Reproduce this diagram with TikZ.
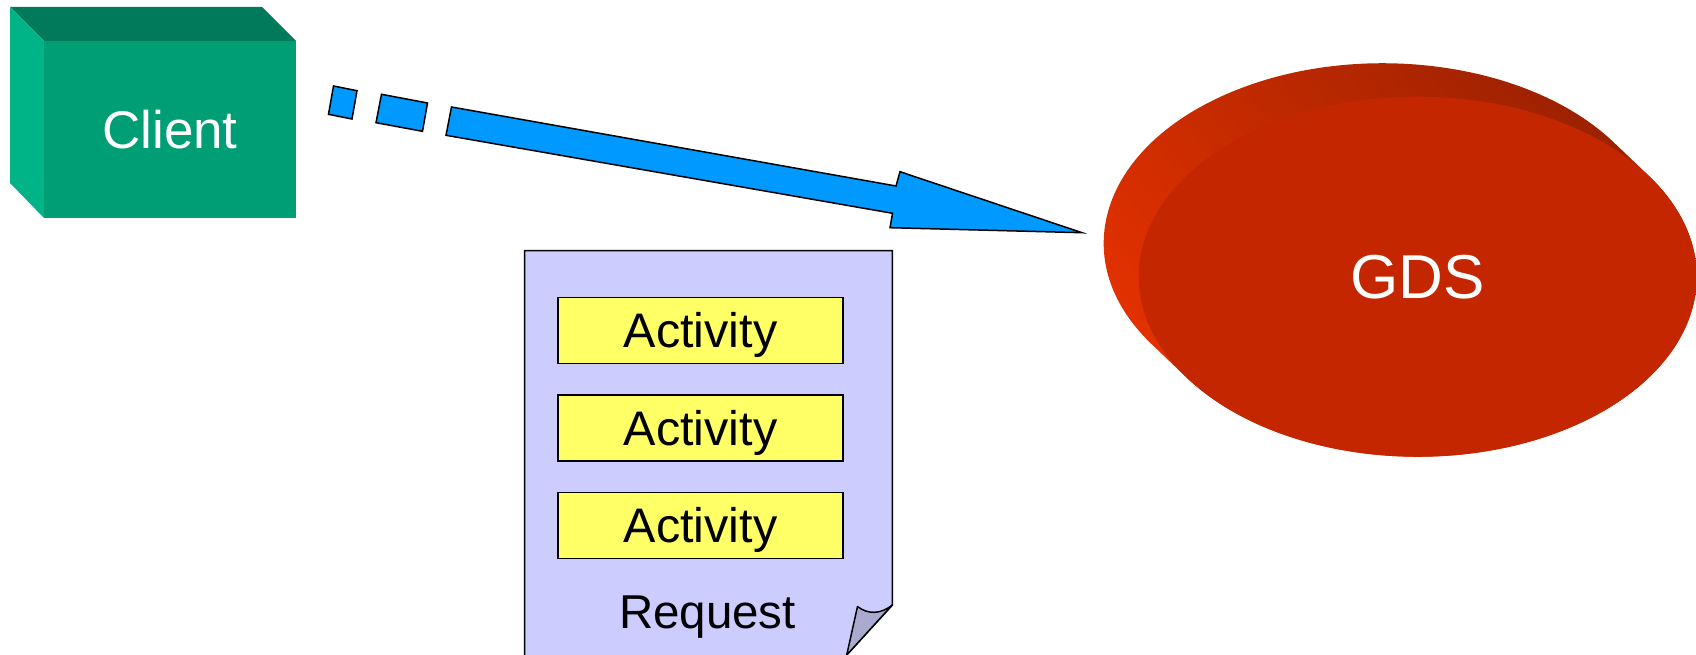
\documentclass[tikz,border=0pt]{standalone}
\usepackage{fontspec}
\setmainfont{Liberation Sans}
\usetikzlibrary{shapes.geometric,positioning}

\definecolor{clientfront}{RGB}{0,158,117}
\definecolor{clienttop}{RGB}{0,122,90}
\definecolor{clientside}{RGB}{0,180,135}
\definecolor{arrowblue}{RGB}{0,153,255}
\definecolor{pagelilac}{RGB}{204,204,255}
\definecolor{foldlilac}{RGB}{170,170,208}
\definecolor{actyellow}{RGB}{255,255,102}
\definecolor{gdsfront}{RGB}{196,38,0}
\definecolor{gdsdark}{RGB}{150,32,0}
\definecolor{gdsbright}{RGB}{232,50,0}

\begin{document}
\begin{tikzpicture}[x=1pt, y=-1pt, node distance=30pt,
    activity/.style={draw, line width=1.5pt, fill=actyellow, minimum width=285pt,
      minimum height=66pt, inner sep=0pt, text depth=0pt, font=\fontsize{48.5}{52}\selectfont},
    blockarrow/.style={fill=arrowblue, draw=black, line width=1.5pt, line join=miter}]
  \useasboundingbox (0,0) rectangle (1696,655);

  % Client (caixa 3D)
  \node[fill=clientfront, minimum width=252pt, minimum height=177pt, inner sep=0pt, outer sep=0pt,
    text=white, font=\fontsize{53}{60}\selectfont] (client) at (170,129.5) {Client};
  \fill[clienttop] (client.north west) -- ++(-34,-34) -- ++(252,0) -- (client.north east) -- cycle;
  \fill[clientside] (client.north west) -- ++(-34,-34) -- ++(0,176) -- (client.south west) -- cycle;

  % Seta tracejada
  \filldraw[blockarrow] (333.5,86) -- (357,90.7) -- (352,119) -- (328.5,114.3) -- cycle;
  \filldraw[blockarrow] (381.5,94.3) -- (427.5,103) -- (422.5,131.3) -- (376,122.7) -- cycle;
  \filldraw[blockarrow] (451.5,107) -- (896,186) -- (900,171.7) -- (1082,232.7)
    -- (890,227.7) -- (892.5,213.3) -- (446,135.3) -- cycle;

  % Folha do pedido
  \filldraw[fill=pagelilac, line width=1.5pt] (524.7,665) -- (524.7,250.7) -- (892.3,250.7)
    -- (892.3,605) -- (846.7,655) -- (846.7,665) -- cycle;
  \filldraw[fill=foldlilac, line width=1.5pt, line join=round] (892.3,605)
    .. controls (880,615) and (867,614) .. (857.5,606.5) -- (846.7,655) -- cycle;

  % Atividades
  \node[activity] (act1) at (700.5,330.3) {Activity};
  \node[activity, below=of act1] (act2) {Activity};
  \node[activity, below=of act2] (act3) {Activity};
  \node[anchor=base, font=\fontsize{47.5}{52}\selectfont] (request) at (707.5,628) {Request};

  % GDS (elipse 3D)
  \coordinate (gdsc) at (1417.7,276.7);
  \shade[top color=gdsdark, bottom color=gdsbright, shading angle=-50]
    ([shift={(231.3,-100.6)}]gdsc) arc[start angle=-34, end angle=146, x radius=279, y radius=180]
    -- ++(-35,-33.5) arc[start angle=146, end angle=326, x radius=279, y radius=180] -- cycle;
  \node[ellipse, fill=gdsfront, minimum width=558pt, minimum height=360pt, inner sep=0pt,
    text=white, font=\fontsize{62}{70}\selectfont] (gds) at (gdsc) {GDS};
\end{tikzpicture}
\end{document}
